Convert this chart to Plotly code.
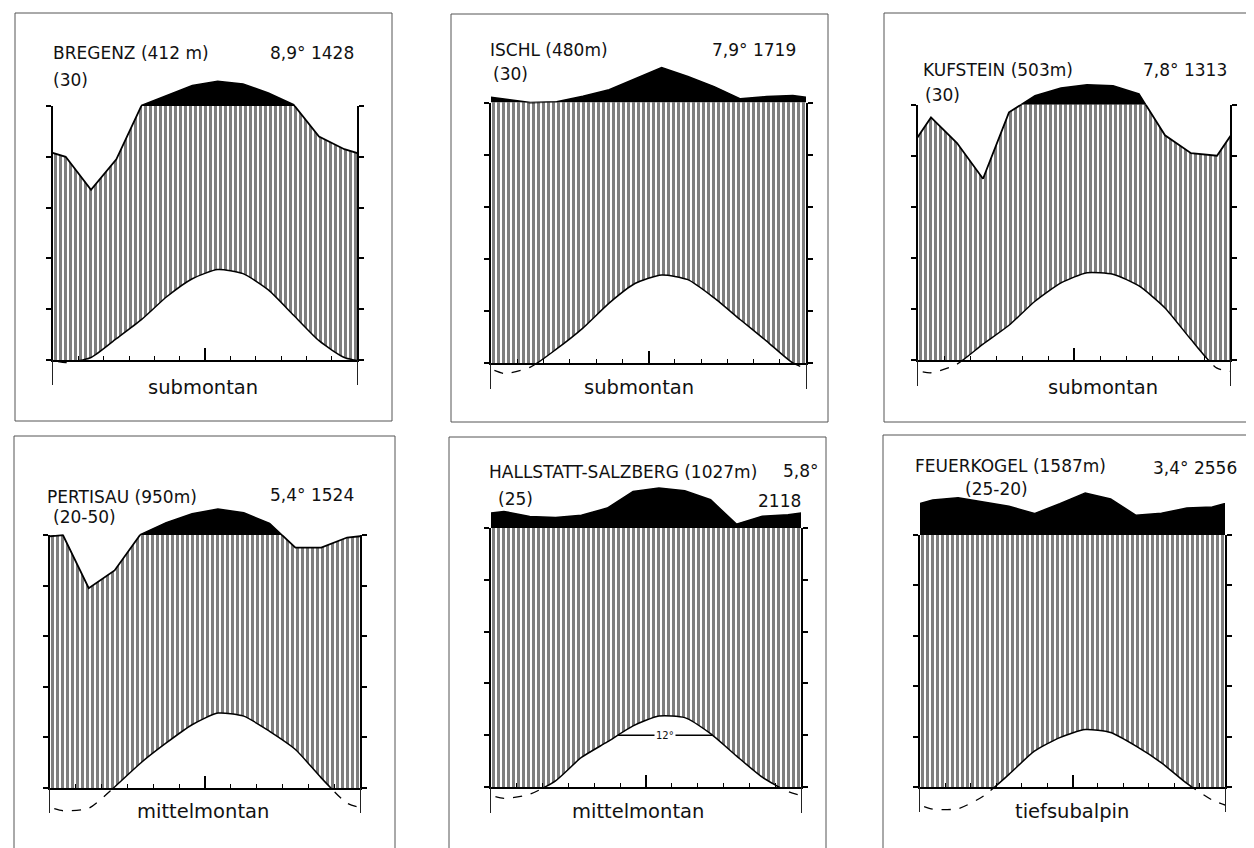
import plotly.graph_objects as go

W, H = 1254, 848

# ---------------- data ----------------
MONTHS = ["Jan", "Feb", "Mär", "Apr", "Mai", "Jun", "Jul", "Aug", "Sep", "Okt", "Nov", "Dez"]

STATIONS = ["BREGENZ (412 m)", "ISCHL (480m)", "KUFSTEIN (503m)",
            "PERTISAU (950m)", "HALLSTATT-SALZBERG (1027m)", "FEUERKOGEL (1587m)"]
YEARS = ["(30)", "(30)", "(30)", "(20-50)", "(25)", "(25-20)"]
MEAN_TEMP = ["8,9°", "7,9°", "7,8°", "5,4°", "5,8°", "3,4°"]
ANNUAL_PREC = ["1428", "1719", "1313", "1524", "2118", "2556"]
BELTS = ["submontan", "submontan", "submontan", "mittelmontan", "mittelmontan", "tiefsubalpin"]

TEMP_BREGENZ = [-0.5, 0.5, 4.2, 8.0, 12.5, 16.0, 17.8, 17.0, 13.8, 8.8, 3.8, 0.5]
PREC_BREGENZ = [80, 67, 79, 103, 142, 181, 197, 187, 151, 105, 88, 83]

TEMP_ISCHL = [-2.0, -0.8, 2.7, 6.7, 11.5, 15.3, 16.9, 16.0, 12.5, 8.3, 4.2, 0.0]
PREC_ISCHL = [114, 100, 103, 124, 149, 193, 234, 200, 161, 114, 123, 127]

TEMP_KUFSTEIN = [-2.5, -0.8, 3.1, 6.8, 11.5, 15.1, 17.1, 16.8, 14.5, 10.2, 4.0, -1.6]
PREC_KUFSTEIN = [95, 85, 71, 97, 135, 165, 178, 174, 142, 88, 81, 80]

TEMP_PERTISAU = [-4.5, -4.0, 0.2, 4.9, 8.9, 12.5, 14.8, 14.2, 11.2, 7.6, 2.0, -3.0]
PREC_PERTISAU = [100, 79, 86, 102, 149, 184, 203, 188, 146, 95, 95, 99]

TEMP_HALLSTATT = [-2.2, -1.4, 1.2, 5.7, 8.7, 11.8, 13.7, 13.4, 10.3, 6.0, 1.9, -0.9]
PREC_HALLSTATT = [164, 144, 141, 149, 177, 241, 254, 244, 209, 115, 145, 151]

TEMP_FEUERKOGEL = [-4.4, -4.3, -1.8, 2.5, 7.1, 9.8, 11.4, 10.8, 8.1, 4.8, 0.7, -2.6]
PREC_FEUERKOGEL = [239, 248, 232, 214, 185, 224, 267, 243, 178, 186, 207, 211]

TEMPS = [TEMP_BREGENZ, TEMP_ISCHL, TEMP_KUFSTEIN, TEMP_PERTISAU, TEMP_HALLSTATT, TEMP_FEUERKOGEL]
PRECS = [PREC_BREGENZ, PREC_ISCHL, PREC_KUFSTEIN, PREC_PERTISAU, PREC_HALLSTATT, PREC_FEUERKOGEL]

WARM_LABEL = "12°"   # label in the Hallstatt diagram
WARM_LEVEL = 10      # temperature level of that marker line

# ---------------- layout geometry (pixels) ----------------
GEOM = [
    dict(box=(7, 5, 384, 413), x0=45, x1=349, yb=352, y100=98),
    dict(box=(443, 6, 820, 414), x0=483, x1=798, yb=355, y100=94.5),
    dict(box=(876, 5, 1251, 414), x0=910, x1=1222, yb=352, y100=96.7),
    dict(box=(6, 428, 387, 900), x0=42, x1=352, yb=780, y100=527),
    dict(box=(441, 429, 818, 900), x0=483, x1=793, yb=779, y100=520),
    dict(box=(875, 427, 1251, 900), x0=912, x1=1217, yb=779, y100=527),
]
TEXTPOS = [
    dict(name=(43, 45), yrs=(43, 72), clim=(260, 45), belt=(195, 379)),
    dict(name=(480, 42), yrs=(483, 66), clim=(702, 42), belt=(631, 379)),
    dict(name=(913, 62), yrs=(915, 87), clim=(1133, 62), belt=(1095, 379)),
    dict(name=(37, 489), yrs=(43, 509), clim=(260, 487), belt=(195, 803)),
    dict(name=(479, 464), yrs=(488, 491), clim=(773, 463), prec=(748, 493), belt=(630, 803)),
    dict(name=(905, 458), yrs=(955, 481), clim=(1143, 460), belt=(1064, 803)),
]

TOP_EXTRA = 10   # scale units above the 100 mm line
NEG = 5          # scale units below 0 °C


def px(x):
    return x / W


def py(y):
    return 1 - y / H


def prec_scale(p):
    # Walter-Lieth: 10 °C = 20 mm below 100 mm, 10 °C = 200 mm above
    return p / 2 if p <= 100 else 50 + (p - 100) / 20


def cyc(vals):
    xs = [-0.5] + [i + 0.5 for i in range(len(vals))] + [len(vals) + 0.5]
    ys = [vals[-1]] + list(vals) + [vals[0]]
    return xs, ys


fig = go.Figure()
layout = {}
annotations = []
shapes = []

TEXT_FONT = dict(family="DejaVu Sans", size=17, color="#111")

for k in range(6):
    g = GEOM[k]
    s = (g["yb"] - g["y100"]) / 50.0
    xdom = [px(g["x0"]), px(g["x1"])]
    doms = [
        [py(g["y100"]), py(g["y100"] - TOP_EXTRA * s)],   # top: precipitation > 100 mm
        [py(g["yb"]), py(g["y100"])],                        # middle: main diagram
        [py(g["yb"] + NEG * s), py(g["yb"])],                # bottom: frost part
    ]
    ranges = [[50, 50 + TOP_EXTRA], [0, 50], [-NEG, 0]]
    ids = [3 * k + j + 1 for j in range(3)]
    for j, n in enumerate(ids):
        xa = "xaxis" if n == 1 else f"xaxis{n}"
        ya = "yaxis" if n == 1 else f"yaxis{n}"
        xname = "x" if n == 1 else f"x{n}"
        yname = "y" if n == 1 else f"y{n}"
        layout[xa] = dict(domain=xdom, range=[0, 12], anchor=yname, visible=False,
                          showgrid=False, zeroline=False, fixedrange=True)
        layout[ya] = dict(domain=doms[j], range=ranges[j], anchor=xname, visible=False,
                          showgrid=False, zeroline=False, fixedrange=True)
        if j == 1:
            layout[xa].update(visible=True, showline=True, linecolor="black", linewidth=2,
                              ticks="inside", tick0=0, dtick=6, ticklen=12, tickwidth=1.5,
                              tickcolor="black", showticklabels=False,
                              minor=dict(ticks="inside", tick0=0, dtick=1, ticklen=4,
                                         tickwidth=1.2, tickcolor="black"))
            layout[ya].update(visible=True, showline=True, linecolor="black", linewidth=1.5,
                              mirror="ticks", ticks="outside", tick0=0, dtick=10,
                              ticklen=5, tickwidth=1.5, tickcolor="black",
                              showticklabels=False)
        if j == 2:
            layout[ya].update(visible=True, showline=True, linecolor="#222", linewidth=1.2,
                              mirror=True, ticks="", showticklabels=False)

    xt, yt = cyc(TEMPS[k])
    xp, yp = cyc([prec_scale(p) for p in PRECS[k]])

    def ax(j):
        return ("x" if ids[j] == 1 else f"x{ids[j]}", "y" if ids[j] == 1 else f"y{ids[j]}")

    # top: black area above 100 mm
    xa_, ya_ = ax(0)
    fig.add_trace(go.Scatter(x=xp, y=yp, xaxis=xa_, yaxis=ya_, mode="lines",
                             line=dict(color="black", width=1.5),
                             fill="tozeroy", fillcolor="black", hoverinfo="skip"))
    # middle: hatched humid period between precipitation and temperature
    xa_, ya_ = ax(1)
    fig.add_trace(go.Scatter(x=xp, y=yp, xaxis=xa_, yaxis=ya_, mode="lines",
                             line=dict(color="black", width=1.8), hoverinfo="skip"))
    fig.add_trace(go.Scatter(x=xt, y=yt, xaxis=xa_, yaxis=ya_, mode="lines",
                             line=dict(color="black", width=1.5, shape="spline", smoothing=0.6),
                             fill="tonexty",
                             fillpattern=dict(shape="|", size=5, solidity=0.6,
                                              fgcolor="black", bgcolor="white"),
                             hoverinfo="skip"))
    # bottom: temperature below 0 °C (dashed)
    xa_, ya_ = ax(2)
    fig.add_trace(go.Scatter(x=xt, y=yt, xaxis=xa_, yaxis=ya_, mode="lines",
                             line=dict(color="black", width=1.3, dash="dash",
                                       shape="spline", smoothing=0.6),
                             hoverinfo="skip"))

    # box
    bx0, by0, bx1, by1 = g["box"]
    shapes.append(dict(type="rect", xref="paper", yref="paper",
                       x0=px(bx0), x1=px(bx1), y0=py(by1), y1=py(by0),
                       line=dict(color="#555", width=1), fillcolor="rgba(0,0,0,0)",
                       layer="below"))

    # texts
    t = TEXTPOS[k]
    annotations.append(dict(xref="paper", yref="paper", x=px(t["name"][0]), y=py(t["name"][1]),
                            xanchor="left", yanchor="middle", text=STATIONS[k],
                            showarrow=False, font=TEXT_FONT))
    annotations.append(dict(xref="paper", yref="paper", x=px(t["yrs"][0]), y=py(t["yrs"][1]),
                            xanchor="left", yanchor="middle", text=YEARS[k],
                            showarrow=False, font=TEXT_FONT))
    if "prec" in t:
        annotations.append(dict(xref="paper", yref="paper", x=px(t["clim"][0]), y=py(t["clim"][1]),
                                xanchor="left", yanchor="middle", text=MEAN_TEMP[k],
                                showarrow=False, font=TEXT_FONT))
        annotations.append(dict(xref="paper", yref="paper", x=px(t["prec"][0]), y=py(t["prec"][1]),
                                xanchor="left", yanchor="middle", text=ANNUAL_PREC[k],
                                showarrow=False, font=TEXT_FONT))
    else:
        annotations.append(dict(xref="paper", yref="paper", x=px(t["clim"][0]), y=py(t["clim"][1]),
                                xanchor="left", yanchor="middle",
                                text=MEAN_TEMP[k] + " " + ANNUAL_PREC[k],
                                showarrow=False, font=TEXT_FONT))
    annotations.append(dict(xref="paper", yref="paper", x=px(t["belt"][0]), y=py(t["belt"][1]),
                            xanchor="center", yanchor="middle", text=BELTS[k],
                            showarrow=False,
                            font=dict(family="DejaVu Sans", size=19.5, color="#111")))

    # Hallstatt warm-period marker
    if k == 4:
        tv = TEMPS[k]
        cross = []
        for i in range(11):
            a, b = tv[i], tv[i + 1]
            if (a - WARM_LEVEL) * (b - WARM_LEVEL) < 0:
                cross.append(i + 0.5 + (WARM_LEVEL - a) / (b - a))
        if len(cross) >= 2:
            xa_, ya_ = ax(1)
            fig.add_trace(go.Scatter(x=[cross[0], cross[-1]], y=[WARM_LEVEL, WARM_LEVEL],
                                     xaxis=xa_, yaxis=ya_, mode="lines",
                                     line=dict(color="black", width=1.5), hoverinfo="skip"))
            annotations.append(dict(xref=xa_, yref=ya_, x=(cross[0] + cross[-1]) / 2,
                                    y=WARM_LEVEL, text=WARM_LABEL, showarrow=False,
                                    bgcolor="white", borderpad=1,
                                    font=dict(family="DejaVu Sans", size=10, color="#111")))

layout.update(width=W, height=H, margin=dict(l=0, r=0, t=0, b=0),
              paper_bgcolor="white", plot_bgcolor="rgba(0,0,0,0)",
              showlegend=False, annotations=annotations, shapes=shapes)
fig.update_layout(**layout)
fig.write_html("out.html")
